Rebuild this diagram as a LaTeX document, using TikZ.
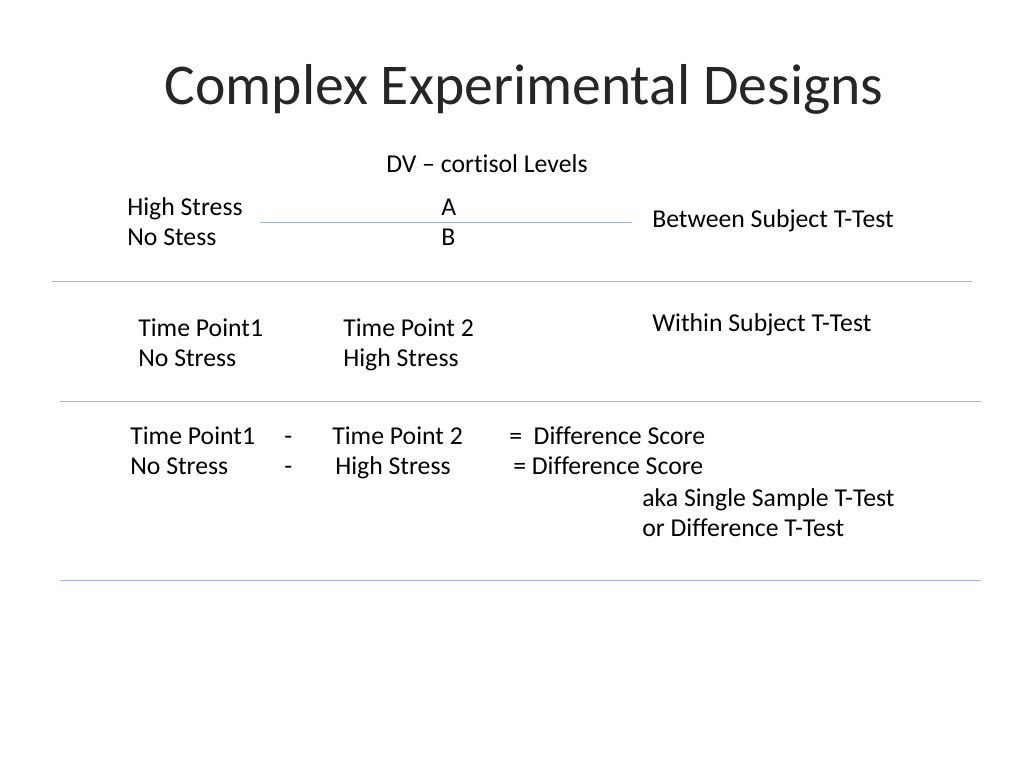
\documentclass[tikz,border=0pt]{standalone}
\usepackage{fontspec}
\setmainfont{Carlito}[Ligatures={NoCommon}]
\usepackage{tikz}
\definecolor{rule}{HTML}{9FB3D6}
\begin{document}
\begin{tikzpicture}[x=0.025cm,y=-0.025cm]
\tikzset{every node/.style={inner sep=0pt,anchor=base west,font=\fontsize{18.3}{21}\selectfont}}
\tikzset{sep/.style={draw=rule,line width=0.6pt}}
\useasboundingbox (0,0) rectangle (1024,768);
\node[anchor=base,font=\fontsize{41}{48}\selectfont,text=black!85] (title) at (524,105) {Complex Experimental Designs};
\node (dv) at (386,173) {DV -- cortisol Levels};
\node (hs) at (127,215) {High Stress};
\node (ns) at (127,245) {No Stess};
\node (a) at (441,215) {A};
\node (b) at (441,245) {B};
\node (bst) at (652,227) {Between Subject T-Test};
\node (tp1) at (138,336) {Time Point1};
\node (ns1) at (138,366) {No Stress};
\node (tp2) at (343,336) {Time Point 2};
\node (hs2) at (343,366) {High Stress};
\node (wst) at (652,331) {Within Subject T-Test};
\node (dtp1) at (130,444) {Time Point1};
\node (m1) at (284,444) {-};
\node (dtp2) at (332,444) {Time Point 2};
\node (d1) at (509,444) {=\ \ Difference Score};
\node (dns) at (130,474) {No Stress};
\node (m2) at (284,474) {-};
\node (dhs) at (335,474) {High Stress};
\node (d2) at (513,474) {= Difference Score};
\node (aka) at (642,506) {aka Single Sample T-Test};
\node (or) at (642,536) {or Difference T-Test};
% separators
\coordinate (l1a) at (260,222); \coordinate (l1b) at (632,222);
\coordinate (l2a) at (52,281);  \coordinate (l2b) at (972,281);
\coordinate (l3a) at (60,401);  \coordinate (l3b) at (981,401);
\coordinate (l4a) at (60,580);  \coordinate (l4b) at (981,580);
\draw[sep] (l1a) -- (l1b);
\draw[sep] (l2a) -- (l2b);
\draw[sep] (l3a) -- (l3b);
\draw[sep] (l4a) -- (l4b);
\end{tikzpicture}
\end{document}
